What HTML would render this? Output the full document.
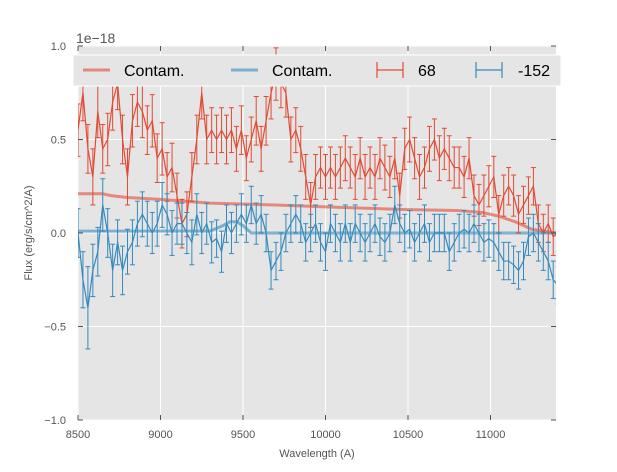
<!DOCTYPE html>
<html><head><meta charset="utf-8"><style>
body{margin:0;background:#fff;}
svg{font-family:"Liberation Sans",sans-serif;}
</style></head><body>
<svg id="chart" width="617" height="467">
<defs><clipPath id="clip"><rect x="78" y="46" width="478" height="374"/></clipPath></defs>
<rect x="78" y="46" width="478" height="374" fill="#e5e5e5"/>
<g id="grid"></g>
<g id="series" clip-path="url(#clip)"></g>
<g id="axes"></g>
<text x="76" y="43" font-size="14" fill="#555">1e−18</text>
<text x="317" y="457" font-size="11" fill="#555" text-anchor="middle">Wavelength (A)</text>
<text x="32" y="233" font-size="11" fill="#555" text-anchor="middle" transform="rotate(-90 32 233)">Flux (erg/s/cm^2/A)</text>
<g id="legend">
<rect x="73" y="55" width="488" height="31" fill="#e5e5e5" stroke="#fff" stroke-width="1"/>
<line x1="83" y1="70" x2="110" y2="70" stroke="#E24A33" stroke-opacity="0.6" stroke-width="3"/>
<text x="124" y="76" font-size="16">Contam.</text>
<line x1="231" y1="70" x2="258" y2="70" stroke="#348ABD" stroke-opacity="0.6" stroke-width="3"/>
<text x="272" y="76" font-size="16">Contam.</text>
<g stroke="#E24A33" stroke-width="1.2"><line x1="377" y1="70" x2="403" y2="70"/><line x1="377" y1="62" x2="377" y2="78"/><line x1="403" y1="62" x2="403" y2="78"/></g>
<text x="418" y="76" font-size="16">68</text>
<g stroke="#348ABD" stroke-width="1.2"><line x1="476" y1="70" x2="502" y2="70"/><line x1="476" y1="62" x2="476" y2="78"/><line x1="502" y1="62" x2="502" y2="78"/></g>
<text x="518" y="76" font-size="16">-152</text>
</g>
</svg>
<script>
const xTicks=[8500,9000,9500,10000,10500,11000];
const yTicks=[-1.0,-0.5,0.0,0.5,1.0];
const yTickLabels=["−1.0","−0.5","0.0","0.5","1.0"];
const wave=[8500,8530,8560,8590,8620,8650,8680,8710,8740,8770,8800,8830,8860,8890,8920,8950,8980,9010,9040,9070,9100,9130,9160,9190,9220,9250,9280,9310,9340,9370,9400,9430,9460,9490,9520,9550,9580,9610,9640,9670,9700,9730,9760,9790,9820,9850,9880,9910,9940,9970,10000,10030,10060,10090,10120,10150,10180,10210,10240,10270,10300,10330,10360,10390,10420,10450,10480,10510,10540,10570,10600,10630,10660,10690,10720,10750,10780,10810,10840,10870,10900,10930,10960,10990,11020,11050,11080,11110,11140,11170,11200,11230,11260,11290,11320,11350,11380,11410,11440];
const red=[0.55,0.75,0.45,0.3,0.65,0.45,0.5,0.7,0.8,0.5,0.3,0.6,0.7,0.65,0.55,0.6,0.4,0.45,0.3,0.35,0.2,0.05,0.1,0.3,0.5,0.75,0.5,0.55,0.5,0.55,0.5,0.55,0.45,0.55,0.4,0.5,0.6,0.45,0.6,0.75,0.85,0.8,0.75,0.5,0.55,0.45,0.3,0.15,0.3,0.35,0.3,0.35,0.3,0.35,0.4,0.35,0.3,0.4,0.3,0.35,0.3,0.4,0.35,0.3,0.4,0.2,0.45,0.5,0.4,0.3,0.35,0.45,0.5,0.4,0.45,0.4,0.35,0.35,0.3,0.4,0.2,0.15,0.2,0.25,0.3,0.1,0.2,0.25,0.2,0.1,0.15,0.2,0.25,0.05,0.0,0.05,-0.02,0.0,0.0];
const redErr=[0.14,0.15,0.13,0.15,0.14,0.13,0.14,0.15,0.14,0.13,0.15,0.14,0.13,0.14,0.13,0.14,0.13,0.14,0.13,0.13,0.12,0.13,0.12,0.13,0.13,0.14,0.13,0.12,0.13,0.12,0.13,0.12,0.12,0.13,0.12,0.12,0.13,0.12,0.13,0.14,0.14,0.13,0.13,0.12,0.12,0.12,0.12,0.12,0.12,0.11,0.12,0.11,0.12,0.11,0.12,0.11,0.12,0.11,0.12,0.11,0.12,0.11,0.12,0.11,0.11,0.12,0.11,0.12,0.11,0.12,0.11,0.12,0.11,0.12,0.11,0.12,0.11,0.11,0.11,0.11,0.11,0.11,0.11,0.11,0.11,0.1,0.11,0.1,0.11,0.1,0.1,0.1,0.1,0.1,0.1,0.1,0.1,0.1,0.1];
const blue=[0.0,-0.25,-0.4,-0.2,-0.1,0.15,0.0,-0.2,-0.05,-0.2,-0.1,-0.05,0.05,0.1,0.05,0.0,0.05,0.15,0.1,0.0,0.05,0.05,0.0,-0.05,0.1,0.0,0.05,-0.05,-0.03,-0.1,0.05,0.0,0.05,0.1,0.05,0.15,0.05,0.1,0.0,-0.2,-0.15,-0.1,0.0,0.05,0.1,0.05,-0.05,0.0,0.05,-0.05,-0.1,0.05,0.0,-0.05,0.05,-0.05,0.05,0.0,-0.05,0.0,0.05,-0.02,-0.05,0.0,0.15,0.05,0.0,0.02,-0.05,0.0,0.05,-0.05,0.0,0.0,0.0,-0.1,-0.05,0.0,0.02,0.0,0.05,0.0,-0.05,-0.03,-0.05,-0.1,-0.15,-0.15,-0.17,-0.2,-0.15,-0.02,0.0,-0.05,-0.1,-0.15,-0.25,-0.28,-0.28];
const blueErr=[0.13,0.15,0.22,0.14,0.13,0.14,0.13,0.14,0.12,0.13,0.12,0.12,0.12,0.12,0.12,0.11,0.12,0.12,0.11,0.12,0.11,0.11,0.11,0.12,0.11,0.11,0.11,0.11,0.1,0.11,0.1,0.11,0.1,0.11,0.1,0.1,0.11,0.1,0.1,0.1,0.1,0.1,0.1,0.1,0.1,0.1,0.1,0.1,0.1,0.1,0.1,0.1,0.1,0.1,0.1,0.1,0.1,0.1,0.1,0.1,0.1,0.1,0.1,0.1,0.1,0.1,0.1,0.1,0.1,0.1,0.1,0.1,0.1,0.1,0.1,0.1,0.1,0.1,0.1,0.1,0.1,0.1,0.1,0.1,0.1,0.1,0.1,0.1,0.1,0.1,0.1,0.1,0.1,0.1,0.1,0.1,0.1,0.1,0.1];
const contamWave=[8500,8650,8700,8800,9000,9300,9700,10000,10500,10800,10950,11050,11150,11250,11400];
const contamRed=[0.21,0.21,0.2,0.19,0.18,0.16,0.15,0.14,0.125,0.12,0.11,0.09,0.06,0.02,0.0];
const contamBlueWave=[8500,9300,9380,9420,9460,9500,9550,10000,11000,11400];
const contamBlue=[0.01,0.01,0.04,0.06,0.06,0.04,0.0,0.0,0.0,0.0];

const NS="http://www.w3.org/2000/svg";
const X=w=>78+(w-8500)*0.165;
const Y=v=>233-v*187;
function mk(tag,attrs,parent){const e=document.createElementNS(NS,tag);for(const k in attrs)e.setAttribute(k,attrs[k]);parent.appendChild(e);return e;}
const grid=document.getElementById('grid'),axes=document.getElementById('axes'),ser=document.getElementById('series');
xTicks.forEach(t=>{
  const l=mk('line',{x1:X(t),x2:X(t),y1:46,y2:420,stroke:'#fff','stroke-width':1},grid);
  
  
  const tk=mk('line',{x1:X(t),x2:X(t),y1:420,y2:415,stroke:'#555'},axes);
  
  
  const tk2=mk('line',{x1:X(t),x2:X(t),y1:46,y2:51,stroke:'#555'},axes);
  
  
  const tx=mk('text',{x:X(t),y:438,'font-size':11,fill:'#555','text-anchor':'middle'},axes);
  tx.textContent=t;
  
  
});
yTicks.forEach((t,i)=>{
  const l=mk('line',{x1:78,x2:556,y1:Y(t),y2:Y(t),stroke:'#fff','stroke-width':1},grid);
  
  
  const tk=mk('line',{x1:78,x2:83,y1:Y(t),y2:Y(t),stroke:'#555'},axes);
  
  
  const tk2=mk('line',{x1:551,x2:556,y1:Y(t),y2:Y(t),stroke:'#555'},axes);
  
  
  const tx=mk('text',{x:66,y:Y(t)+4,'font-size':11,fill:'#555','text-anchor':'end'},axes);
  tx.textContent=yTickLabels[i];
  
  
});
function line(xs,ys,color,w,op,name){
  const p=mk('polyline',{points:xs.map((x,i)=>X(x)+','+Y(ys[i])).join(' '),fill:'none',stroke:color,'stroke-width':w,'stroke-opacity':op},ser);
  
  
}
function errs(vals,err,color,name){
  const g=mk('g',{stroke:color,'stroke-width':1},ser);
  
  
  vals.forEach((v,i)=>{
    const x=X(wave[i]),y1=Y(v-err[i]),y2=Y(v+err[i]);
    mk('line',{x1:x,x2:x,y1:y1,y2:y2},g);
    mk('line',{x1:x-2.5,x2:x+2.5,y1:y1,y2:y1},g);
    mk('line',{x1:x-2.5,x2:x+2.5,y1:y2,y2:y2},g);
  });
}
line(contamWave,contamRed,'#E24A33',3,0.6,'contam-red-line');
line(contamBlueWave,contamBlue,'#348ABD',3,0.6,'contam-blue-line');
errs(red,redErr,'#E24A33','errorbars-68');
line(wave,red,'#E24A33',1.2,1,'series-68-line');
errs(blue,blueErr,'#348ABD','errorbars-152');
line(wave,blue,'#348ABD',1.2,1,'series-152-line');
</script>
</body></html>
